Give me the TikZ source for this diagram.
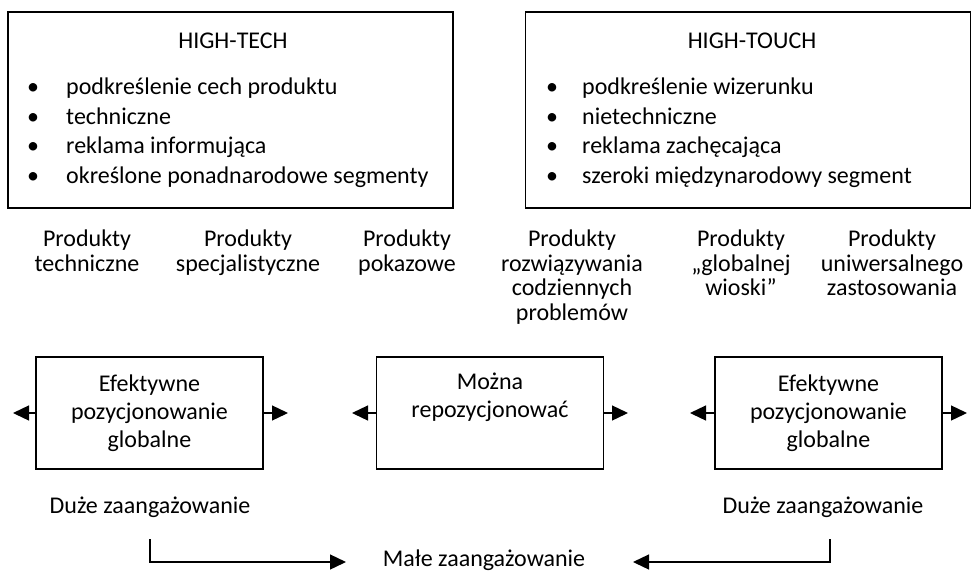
\documentclass[tikz,border=0pt]{standalone}
\usepackage{fontspec}
\setmainfont{Carlito}
\usetikzlibrary{arrows.meta}

\tikzset{
  bigbox/.style={draw, line width=1.6pt, minimum width=445pt, minimum height=196pt, inner sep=0pt},
  midbox/.style={draw, line width=1.6pt, minimum width=227pt, minimum height=112pt, inner sep=0pt},
  lbl/.style={inner sep=0pt, align=center, font=\fontsize{24}{28}\selectfont},
  prod/.style={inner sep=0pt, align=center, anchor=north, font=\fontsize{24}{24.5}\selectfont},
  item/.style={inner sep=0pt, anchor=base west, font=\fontsize{24}{28}\selectfont},
  dot/.style={inner sep=0pt, anchor=base, font=\fontsize{24}{28}\selectfont},
  arr/.style={line width=1.3pt, -{Triangle[length=16pt,width=15pt]}}
}

\begin{document}
\begin{tikzpicture}[x=1pt,y=-1pt]
  \useasboundingbox (0,0) rectangle (972,571);

  % gorne pola
  \node[bigbox] (tech) at (230.5,110) {};
  \node[bigbox] (touch) at (748,110) {};
  \node[lbl, anchor=base] (techtitle) at (233,48) {HIGH-TECH};
  \node[lbl, anchor=base] (touchtitle) at (752,48) {HIGH-TOUCH};
  \foreach \t [count=\i] in {podkreślenie cech produktu, techniczne,
      reklama informująca, określone ponadnarodowe segmenty} {
    \node[dot] (tb\i) at (33,65+29.5*\i) {\textbullet};
    \node[item] (ti\i) at (66,65+29.5*\i) {\t};
  }
  \foreach \t [count=\i] in {podkreślenie wizerunku, nietechniczne,
      reklama zachęcająca, szeroki międzynarodowy segment} {
    \node[dot] (hb\i) at (552,65+29.5*\i) {\textbullet};
    \node[item] (hi\i) at (582,65+29.5*\i) {\t};
  }

  % produkty
  \node[prod] (p1) at (87,230) {Produkty\\techniczne};
  \node[prod] (p2) at (248,230) {Produkty\\specjalistyczne};
  \node[prod] (p3) at (407,230) {Produkty\\pokazowe};
  \node[prod] (p4) at (572,230) {Produkty\\rozwiązywania\\codziennych\\problemów};
  \node[prod] (p5) at (741,230) {Produkty\\„globalnej\\wioski”};
  \node[prod] (p6) at (892,230) {Produkty\\uniwersalnego\\zastosowania};

  % pozycjonowanie
  \node[midbox] (glob1) at (149.5,413) {};
  \node[midbox] (repo) at (490,413) {};
  \node[midbox] (glob2) at (828.5,413) {};
  \node[lbl] at (glob1) {Efektywne\\pozycjonowanie\\globalne};
  \node[lbl, anchor=north] at ([yshift=-16pt]repo.north) {Można\\repozycjonować};
  \node[lbl] at (glob2) {Efektywne\\pozycjonowanie\\globalne};

  \coordinate (g1l) at (13,413);
  \coordinate (g1r) at (288,413);
  \coordinate (rl) at (352,413);
  \coordinate (rr) at (628,413);
  \coordinate (g2l) at (690,413);
  \coordinate (g2r) at (967,413);
  \draw[arr] (glob1.west) -- (g1l);
  \draw[arr] (glob1.east) -- (g1r);
  \draw[arr] (repo.west) -- (rl);
  \draw[arr] (repo.east) -- (rr);
  \draw[arr] (glob2.west) -- (g2l);
  \draw[arr] (glob2.east) -- (g2r);

  % zaangazowanie
  \node[lbl, anchor=base] (duze1) at (150,513) {Duże zaangażowanie};
  \node[lbl, anchor=base] (duze2) at (823,513) {Duże zaangażowanie};
  \node[lbl, anchor=base] (male) at (484,566) {Małe zaangażowanie};
  \coordinate (d1) at (150,539);
  \coordinate (d2) at (830,539);
  \coordinate (ml) at (346,562);
  \coordinate (mr) at (633,562);
  \draw[arr] (d1) |- (ml);
  \draw[arr] (d2) |- (mr);
\end{tikzpicture}
\end{document}
